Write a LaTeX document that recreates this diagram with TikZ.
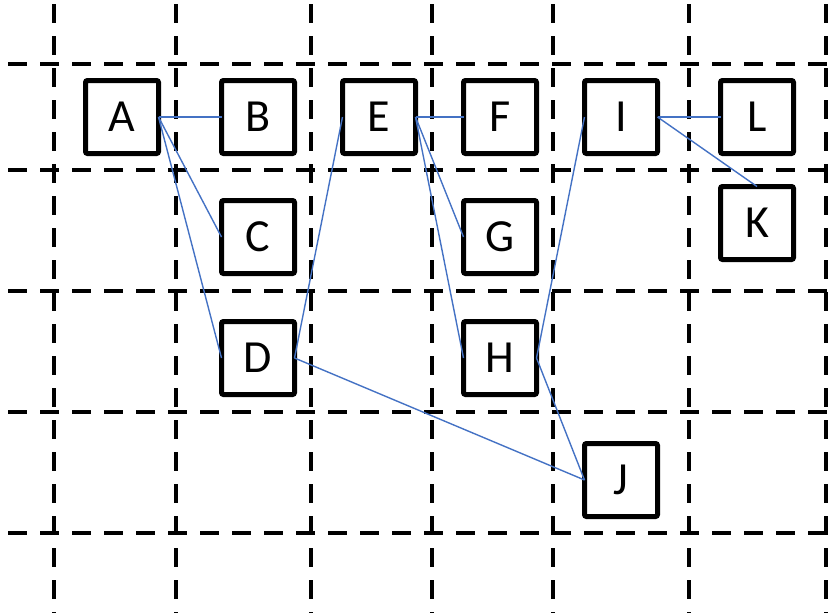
\documentclass[tikz,border=0pt]{standalone}
\usepackage{fontspec}
\setmainfont{Carlito}
\begin{document}
\begin{tikzpicture}[x=1pt,y=-1pt,
  gridline/.style={line width=4pt,dash pattern=on 19pt off 13pt},
  letterbox/.style={draw,fill=white,line width=5pt,minimum size=73pt,inner sep=0pt,outer sep=0pt,rounded corners=2pt,font=\fontsize{46}{46}\selectfont},
  link/.style={draw={rgb,255:red,68;green,114;blue,196},line width=1.4pt}]
\useasboundingbox (0,0) rectangle (835,613);
% grid
\foreach \yy in {64,170,291,412,533} \draw[gridline] (8,\yy) -- (835,\yy);
\foreach \xx in {54,176,311,432,553,689,826} \draw[gridline] (\xx,4) -- (\xx,613);
% boxes
\node[letterbox] (A) at (122,117) {A};
\node[letterbox] (B) at (258,117) {B};
\node[letterbox] (E) at (379,117) {E};
\node[letterbox] (F) at (500,117) {F};
\node[letterbox] (I) at (621,117) {I};
\node[letterbox] (L) at (757,117) {L};
\node[letterbox] (C) at (258,237) {C};
\node[letterbox] (G) at (500,237) {G};
\node[letterbox] (K) at (757,223) {K};
\node[letterbox] (D) at (258,358) {D};
\node[letterbox] (H) at (500,358) {H};
\node[letterbox] (J) at (621,480) {J};
% connectors
\draw[link] (A.east) -- (B.west);
\draw[link] (A.east) -- (C.west);
\draw[link] (A.east) -- (D.west);
\draw[link] (E.west) -- (D.east);
\draw[link] (E.east) -- (F.west);
\draw[link] (E.east) -- (G.west);
\draw[link] (E.east) -- (H.west);
\draw[link] (I.west) -- (H.east);
\draw[link] (I.east) -- (L.west);
\draw[link] (I.east) -- (K.north);
\draw[link] (D.east) -- (J.west);
\draw[link] (H.east) -- (J.west);
\end{tikzpicture}
\end{document}
